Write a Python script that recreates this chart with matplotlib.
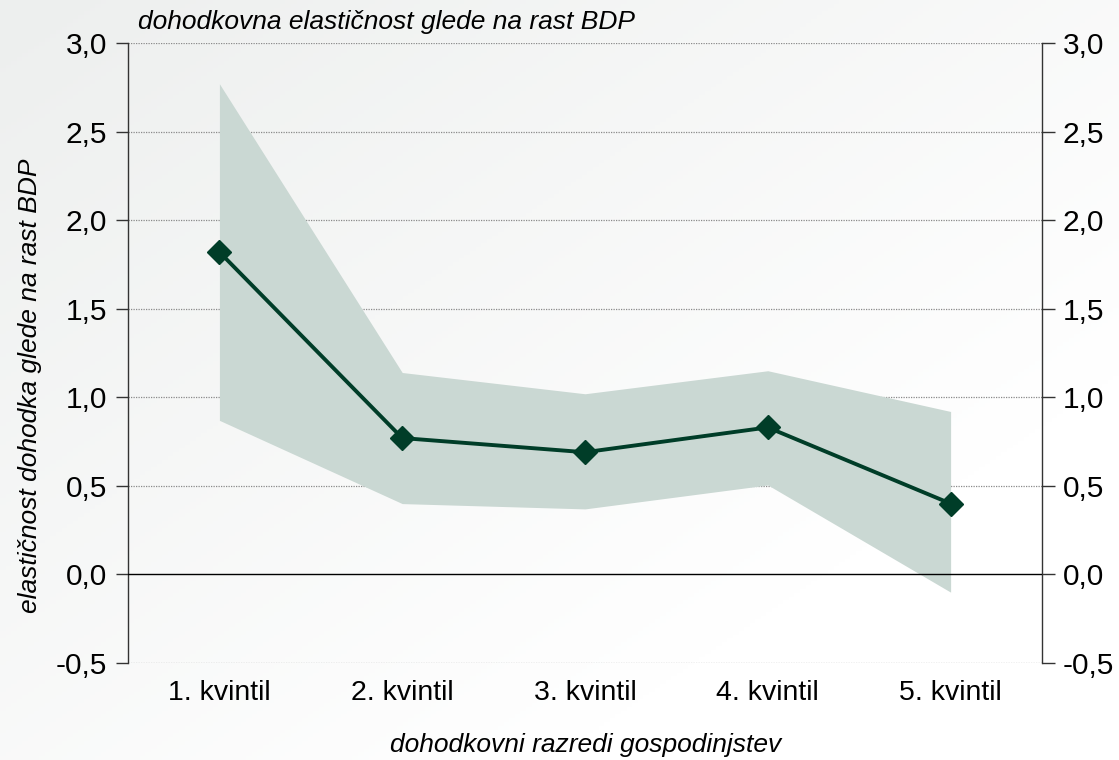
import numpy as np
import matplotlib
matplotlib.use("Agg")
import matplotlib.pyplot as plt

plt.rcParams['font.family'] = ['Liberation Sans Narrow', 'Liberation Sans', 'DejaVu Sans']

# data
categories = ['1. kvintil', '2. kvintil', '3. kvintil', '4. kvintil', '5. kvintil']
elasticity = [1.82, 0.77, 0.69, 0.83, 0.40]
band_upper = [2.77, 1.14, 1.02, 1.15, 0.92]
band_lower = [0.87, 0.40, 0.37, 0.505, -0.10]
yticks = [-0.5, 0.0, 0.5, 1.0, 1.5, 2.0, 2.5, 3.0]

line_col = '#003d28'
band_col = '#cad8d3'

fig = plt.figure(figsize=(11.19, 7.6), dpi=100)

# soft diagonal gradient behind everything
bg = fig.add_axes([0, 0, 1, 1], zorder=-10)
gx, gy = np.meshgrid(np.linspace(0, 1, 200), np.linspace(0, 1, 200))
g = np.clip((gx + gy) / 1.5, 0, 1)
bg.imshow(g, cmap=matplotlib.colors.LinearSegmentedColormap.from_list('g', ['#edefee', '#ffffff']),
          extent=[0, 1, 0, 1], aspect='auto', origin='upper')
bg.axis('off')

ax = fig.add_axes([0.1144, 0.1276, 0.8168, 0.8158])
ax.patch.set_alpha(0)
x = np.arange(len(categories))

for t in yticks:
    if t == 0:
        ax.axhline(t, color='black', lw=1.0, zorder=4)
    else:
        ax.axhline(t, color='#8a8a8a', lw=0.9, ls=(0, (1, 1)), zorder=1)

ax.fill_between(x, band_lower, band_upper, color=band_col, lw=0, zorder=2)
ax.plot(x, elasticity, color=line_col, lw=2.8, marker='D', ms=12.5, zorder=5)

ax.set_xlim(-0.5, 4.5)
ax.set_ylim(-0.5, 3.0)
ax.set_xticks(x)
ax.set_xticklabels(categories)
ax.set_yticks(yticks)
ax.set_yticklabels([f'{t:.1f}'.replace('.', ',') for t in yticks])
ax.tick_params(axis='x', length=0, pad=12, labelsize=20.5)
ax.tick_params(axis='y', direction='out', length=9, width=1, color='#333333', labelsize=21.5,
               pad=6, right=True, labelright=True)
for s in ['top', 'bottom']:
    ax.spines[s].set_visible(False)
for s in ['left', 'right']:
    ax.spines[s].set_color('#333333')
    ax.spines[s].set_linewidth(1)

fig.text(0.123, 0.971, 'dohodkovna elastičnost glede na rast BDP', fontsize=19,
         style='italic', ha='left', va='center')
fig.text(0.027, 0.493, 'elastičnost dohodka glede na rast BDP', fontsize=19,
         style='italic', rotation=90, ha='center', va='center')
fig.text(0.523, 0.02, 'dohodkovni razredi gospodinjstev', fontsize=19,
         style='italic', ha='center', va='center')

fig.savefig('out.png', dpi=100)
